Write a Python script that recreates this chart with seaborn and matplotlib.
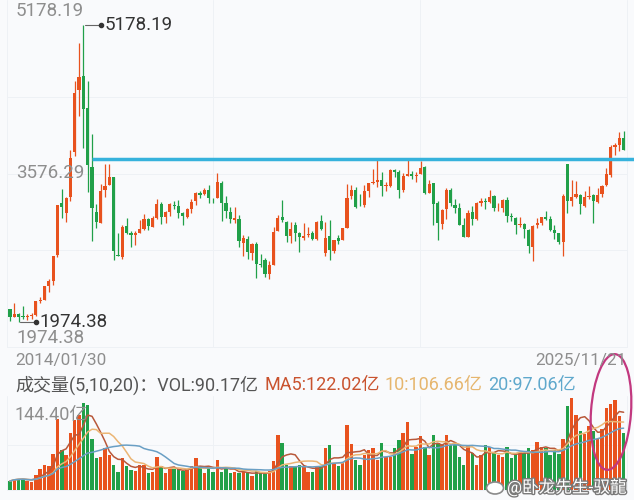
import numpy as np
import pandas as pd
import matplotlib
matplotlib.use('Agg')
import matplotlib.pyplot as plt
import matplotlib.patheffects as pe
from matplotlib.lines import Line2D
from matplotlib.patches import Ellipse
import seaborn as sns

# 上证指数 月K 2014/01 - 2025/11
opens = [
    2112, 2033, 2057, 2034, 2025, 2038, 2049, 2203, 2217, 2361, 2418, 2693,
    3258, 3148, 3328, 3810, 4480, 4633, 4287, 3643, 3158, 3039, 3403, 3457,
    3536, 2689, 2680, 3010, 2939, 2917, 2932, 2977, 3087, 3004, 3100, 3246,
    3105, 3163, 3235, 3227, 3147, 3112, 3193, 3276, 3365, 3358, 3397, 3314,
    3315, 3479, 3262, 3161, 3080, 3084, 2829, 2871, 2721, 2821, 2599, 2647,
    2497, 2590, 2954, 3110, 3052, 2902, 3025, 2933, 2880, 2913, 2933, 2874,
    3067, 2716, 2899, 2743, 2879, 2856, 2991, 3329, 3396, 3231, 3232, 3389,
    3474, 3481, 3510, 3446, 3445, 3614, 3591, 3396, 3549, 3569, 3547, 3570,
    3649, 3363, 3469, 3253, 3035, 3188, 3396, 3241, 3209, 3025, 2887, 3158,
    3087, 3256, 3280, 3271, 3329, 3200, 3199, 3291, 3113, 3100, 3023, 3030,
    2972, 2779, 3019, 3039, 3110, 3087, 2966, 2930, 2840, 3674, 3277, 3319,
    3347, 3226, 3318, 3347, 3274, 3352, 3449, 3559, 3860, 3889, 3956,
]
highs = [
    2112, 2177, 2076, 2146, 2061, 2076, 2204, 2248, 2366, 2434, 2683, 3239,
    3406, 3325, 3835, 4572, 4986, 5178.19, 4572, 4006, 3243, 3459, 3678, 3684,
    3539, 2934, 3018, 3097, 2952, 2954, 3070, 3140, 3100, 3123, 3301, 3264,
    3174, 3260, 3283, 3295, 3166, 3204, 3301, 3374, 3392, 3418, 3450, 3315,
    3587, 3496, 3334, 3220, 3220, 3128, 2915, 2897, 2827, 2838, 2703, 2667,
    2630, 2995, 3129, 3288, 3068, 3049, 3048, 2948, 3047, 2994, 2952, 3063,
    3127, 3058, 3074, 2862, 2908, 2991, 3458, 3455, 3426, 3360, 3457, 3474,
    3622, 3731.69, 3588, 3482, 3625, 3630, 3614, 3581, 3723, 3605, 3588, 3708,
    3652, 3511, 3478, 3285, 3195, 3424, 3419, 3296, 3262, 3098, 3185, 3226,
    3269, 3310, 3308, 3394, 3342, 3258, 3302, 3322, 3154, 3111, 3102, 3042,
    2973, 3016, 3092, 3110, 3174, 3117, 3017, 2939, 3358, 3674, 3509, 3495,
    3352, 3391, 3439, 3350, 3418, 3453, 3636, 3888, 3900, 4025, 4034,
]
lows = [
    1984, 2026, 1974.38, 2010, 1991, 2010, 2040, 2183, 2217, 2296, 2376, 2675,
    3095, 3050, 3283, 3767, 4199, 3848, 3373, 2850, 2983, 3039, 3327, 3454,
    2638, 2682, 2650, 2923, 2781, 2807, 2932, 2962, 2968, 2998, 3088, 3029,
    3044, 3123, 3194, 3096, 3017, 3092, 3152, 3233, 3317, 3341, 3254, 3254,
    3307, 3062, 3091, 3041, 3041, 2782, 2691, 2653, 2644, 2449, 2563, 2462,
    2440, 2586, 2954, 3057, 2838, 2822, 2844, 2733, 2860, 2891, 2857, 2857,
    2963, 2685, 2646, 2720, 2815, 2856, 2991, 3298, 3202, 3224, 3210, 3325,
    3465, 3434, 3329, 3383, 3434, 3537, 3313, 3381, 3544, 3512, 3484, 3570,
    3357, 3363, 3023, 2863, 2979, 3085, 3227, 3155, 3021, 2886, 2886, 3023,
    3077, 3231, 3191, 3258, 3171, 3177, 3163, 3053, 3069, 2923, 3003, 2882,
    2724, 2635, 2993, 3016, 3079, 2953, 2865, 2815, 2689, 3153, 3229, 3316,
    3140, 3220, 3304, 3041, 3262, 3323, 3442, 3543, 3781, 3822, 3834,
]
closes = [
    2033, 2056, 2033, 2026, 2039, 2048, 2201, 2217, 2363, 2420, 2682, 3235,
    3210, 3310, 3748, 4442, 4612, 4277, 3664, 3206, 3053, 3383, 3445, 3539,
    2738, 2688, 3004, 2938, 2917, 2930, 2979, 3085, 3005, 3100, 3250, 3104,
    3159, 3242, 3223, 3155, 3117, 3192, 3273, 3361, 3349, 3393, 3317, 3307,
    3481, 3259, 3169, 3082, 3095, 2847, 2876, 2725, 2821, 2603, 2588, 2494,
    2585, 2941, 3091, 3078, 2899, 2979, 2933, 2886, 2905, 2929, 2872, 3050,
    2977, 2880, 2750, 2860, 2852, 2985, 3310, 3396, 3218, 3225, 3392, 3473,
    3483, 3509, 3442, 3447, 3615, 3591, 3397, 3544, 3568, 3547, 3564, 3640,
    3361, 3462, 3252, 3047, 3186, 3399, 3253, 3202, 3024, 2893, 3151, 3089,
    3255, 3280, 3273, 3323, 3205, 3202, 3291, 3120, 3110, 3018, 3030, 2975,
    2789, 3015, 3041, 3105, 3087, 2967, 2939, 2842, 3336, 3280, 3326, 3352,
    3250, 3321, 3336, 3279, 3347, 3444, 3573, 3858, 3883, 3955, 3835,
]
# 成交量 (亿)
volumes = [
    14, 18, 18, 18, 14, 13, 24, 33, 40, 37, 56, 112,
    63, 55, 90, 110, 118, 136, 134, 80, 50, 52, 66, 55,
    39, 29, 50, 37, 31, 30, 39, 39, 26, 28, 52, 37,
    26, 33, 33, 33, 30, 31, 38, 51, 37, 27, 34, 29,
    47, 28, 34, 27, 29, 26, 28, 27, 22, 30, 27, 25,
    30, 45, 86, 74, 40, 38, 38, 40, 36, 28, 29, 37,
    37, 66, 70, 42, 37, 42, 102, 72, 47, 40, 55, 63,
    66, 47, 74, 52, 52, 66, 78, 89, 107, 56, 68, 85,
    67, 55, 86, 74, 71, 86, 71, 71, 52, 39, 70, 58,
    40, 55, 71, 68, 60, 55, 52, 68, 50, 55, 60, 58,
    66, 62, 76, 68, 66, 55, 62, 56, 80, 132, 144.4, 118,
    93, 88, 100, 92, 80, 96, 128, 135, 141, 116, 90.17,
]

price_labels = ['5178.19', '3576.29', '1974.38']
date_labels = ['2014/01/30', '2025/11/21']
vol_max_label = '144.40亿'
resistance = 3731.69
resistance_start = 19
legend_parts = [
    ('成交量(5,10,20)：VOL:90.17亿', '#555555'),
    ('MA5:122.02亿', '#c9532f'),
    ('10:106.66亿', '#e6b66e'),
    ('20:97.06亿', '#5fa8cc'),
]

RED = '#e8521e'
GREEN = '#21a049'
BG = '#f9fafc'
GRID = '#eef1f5'

df = pd.DataFrame({'o': opens, 'h': highs, 'l': lows, 'c': closes, 'vol': volumes})
df['i'] = np.arange(len(df))
df['color'] = np.where(df['c'] >= df['o'], RED, GREEN)
df['ma5'] = df['vol'].rolling(5, min_periods=1).mean()
df['ma10'] = df['vol'].rolling(10, min_periods=1).mean()
df['ma20'] = df['vol'].rolling(20, min_periods=1).mean()

sns.set_style('white')
plt.rcParams['font.family'] = ['Roboto', 'Noto Sans CJK SC', 'DejaVu Sans']

W, H = 634, 500
fig = plt.figure(figsize=(W / 100, H / 100), dpi=100, facecolor=BG)


def fx(x):
    return x / W


def fy(y):
    return 1 - y / H


def hline(y, x0=7, x1=627):
    fig.add_artist(Line2D([fx(x0), fx(x1)], [fy(y), fy(y)], color=GRID, lw=0.7, zorder=-1))


def vline(x, y0, y1):
    fig.add_artist(Line2D([fx(x), fx(x)], [fy(y0), fy(y1)], color=GRID, lw=0.7, zorder=-1))


# 网格
for y in [97, 173.5, 250, 347]:
    hline(y)
for y in [445, 490]:
    hline(y)
for x in [7, 213, 420, 627]:
    vline(x, 0, 347)
    vline(x, 396, 490)

ax = fig.add_axes([0, fy(347), 1, 347 / H])
axv = fig.add_axes([0, fy(490), 1, 94 / H])
for a in (ax, axv):
    a.set_xlim(-2.3, 144.4)
    a.axis('off')

hi, lo = max(highs), min(lows)
pad = (hi - lo) * 25 / 297
ax.set_ylim(lo - pad, hi + pad)

# K线
ax.vlines(df['i'], df['l'], df['h'], colors=df['color'], lw=0.9)
body_lo = np.minimum(df['o'], df['c'])
body_h = np.maximum(np.abs(df['c'] - df['o']), 6)
ax.bar(df['i'], body_h, bottom=body_lo, width=0.74, color=df['color'], lw=0)

ax.hlines(resistance, resistance_start, 145, color='#36b2dc', lw=2.5, zorder=5)

# 最高/最低标注
imax, imin = int(np.argmax(highs)), int(np.argmin(lows))
for idx, val, lab in [(imax, hi, price_labels[0]), (imin, lo, price_labels[2])]:
    ax.plot([idx + 0.4, idx + 3.8], [val, val], color='#666666', lw=0.8)
    ax.plot([idx + 4.1], [val], 'o', ms=3, color='#333333')
    ax.text(idx + 4.8, val, lab, va='center', ha='left', fontsize=13.5, color='#333333')

# 成交量
axv.bar(df['i'], df['vol'], width=0.8, color=df['color'], lw=0)
axv.set_ylim(0, max(volumes) * 94 / 92)
sns.lineplot(data=df, x='i', y='ma5', ax=axv, color='#b8583a', lw=1.1)
sns.lineplot(data=df, x='i', y='ma10', ax=axv, color='#ebb574', lw=1.1)
sns.lineplot(data=df, x='i', y='ma20', ax=axv, color='#6a9fc4', lw=1.1)
axv.set_xlabel('')
axv.set_ylabel('')

# 文字
lab_c = '#8e8e8e'
fig.text(fx(16), fy(11), price_labels[0], va='center', fontsize=13.5, color=lab_c)
fig.text(fx(16), fy(173.5), price_labels[1], va='center', fontsize=13.5, color=lab_c)
fig.text(fx(16), fy(338), price_labels[2], va='center', fontsize=13.5, color=lab_c)
fig.text(fx(15), fy(361), date_labels[0], va='center', fontsize=12.3, color=lab_c)
fig.text(fx(626), fy(361), date_labels[1], va='center', ha='right', fontsize=12.3, color=lab_c)
fig.text(fx(15), fy(415), vol_max_label, va='center', fontsize=13, color=lab_c)

xs = [15, 265, 385, 488]
for (txt, col), x in zip(legend_parts, xs):
    fig.text(fx(x), fy(385), txt, va='center', fontsize=13, color=col)

# 水印
fig.add_artist(Ellipse((4.95, (H - 488) / 100), 0.17, 0.12, fill=True, facecolor='white',
                       edgecolor='#8a8a8a', lw=1.2, transform=fig.dpi_scale_trans))
fig.text(fx(507), fy(487), '@卧龙先生-驭龍', va='center', fontsize=12, color='white',
         path_effects=[pe.withStroke(linewidth=2, foreground='#7a7a7a')])

fig.add_artist(Ellipse((6.11, (H - 412) / 100), 0.40, 1.16, angle=-4, fill=False,
                       edgecolor='#c2387f', lw=1.6, transform=fig.dpi_scale_trans))

fig.savefig('out.png', dpi=100, facecolor=BG)
